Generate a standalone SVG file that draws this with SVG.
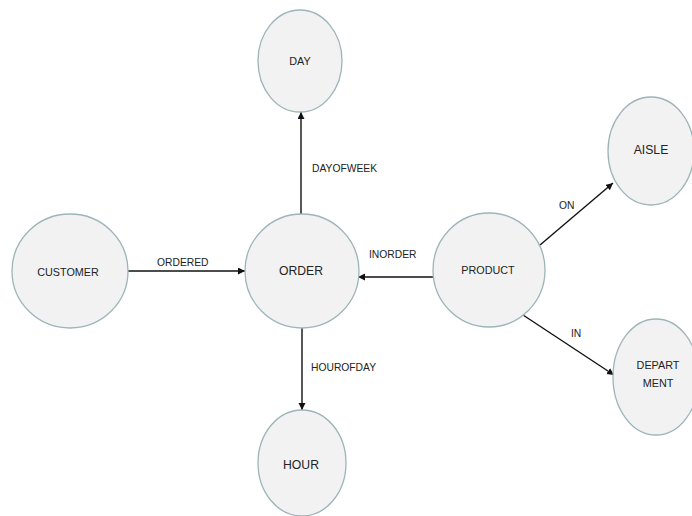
<svg xmlns="http://www.w3.org/2000/svg" width="692" height="516" viewBox="0 0 692 516">
<style>
.node{fill:#f2f2f2;stroke:#9db5b8;stroke-width:1.3}
.nt{font-family:"Liberation Sans",Arial,sans-serif;font-size:10.8px;fill:#222;text-anchor:middle;dominant-baseline:central}
.big{font-size:12.2px}
.edge{stroke:#111;stroke-width:1.4;fill:none;marker-end:url(#arr)}
.lbl{font-family:"Liberation Sans",Arial,sans-serif;font-size:10.3px;fill:#222;dominant-baseline:central}
</style>
<defs>
<marker id="arr" markerWidth="8" markerHeight="8" refX="7" refY="3.5" orient="auto" markerUnits="userSpaceOnUse">
<path d="M0,0 L7,3.5 L0,7 Z" fill="#111"/>
</marker>
</defs>
<rect width="692" height="516" fill="#fff"/>
<g id="connectors">
<line class="edge" x1="128" y1="271" x2="245" y2="271"/>
<line class="edge" x1="301" y1="215" x2="301" y2="112"/>
<line class="edge" x1="302" y1="328" x2="302" y2="410"/>
<line class="edge" x1="433" y1="277" x2="358" y2="277"/>
<line class="edge" x1="540" y1="245" x2="613" y2="183"/>
<line class="edge" x1="523" y1="315" x2="614" y2="375"/>
<text class="lbl" x="157" y="262">ORDERED</text>
<text class="lbl" x="312" y="168">DAYOFWEEK</text>
<text class="lbl" x="311" y="367">HOUROFDAY</text>
<text class="lbl" x="369" y="254">INORDER</text>
<text class="lbl" x="559" y="205">ON</text>
<text class="lbl" x="571" y="333">IN</text>
</g>
<g id="customer"><ellipse class="node" cx="70" cy="271" rx="58" ry="57"/><text class="nt" x="68" y="272">CUSTOMER</text></g>
<g id="order"><ellipse class="node" cx="302" cy="271" rx="57" ry="57"/><text class="nt big" x="301" y="271">ORDER</text></g>
<g id="day"><ellipse class="node" cx="300" cy="61" rx="42" ry="51"/><text class="nt" x="300" y="61">DAY</text></g>
<g id="hour"><ellipse class="node" cx="302" cy="463" rx="44" ry="53"/><text class="nt big" x="301" y="465">HOUR</text></g>
<g id="product"><ellipse class="node" cx="489" cy="270" rx="56" ry="57"/><text class="nt" x="488" y="270">PRODUCT</text></g>
<g id="aisle"><ellipse class="node" cx="651" cy="151" rx="43" ry="54"/><text class="nt big" x="651" y="150">AISLE</text></g>
<g id="department"><ellipse class="node" cx="656" cy="377" rx="43" ry="58"/><text class="nt" x="658" y="365">DEPART</text><text class="nt" x="658" y="383">MENT</text></g>
</svg>
